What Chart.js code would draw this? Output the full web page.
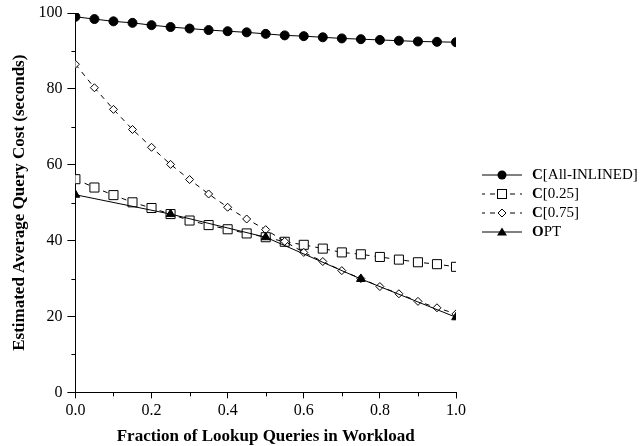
<!DOCTYPE html>
<html>
<head>
<meta charset="utf-8">
<script src="https://cdn.jsdelivr.net/npm/chart.js@4"></script>
<style>
  html, body { margin: 0; padding: 0; background: #fff; }
  #wrap { position: relative; width: 641px; height: 446px; }
  #legend { position: absolute; left: 482px; top: 165px; font-family: "Liberation Serif", serif; font-size: 15px; color: #000; }
  .row { display: flex; align-items: center; height: 19px; white-space: nowrap; }
  .row svg { width: 40px; height: 14px; margin-right: 10px; }
</style>
</head>
<body>
<div id="wrap">
  <canvas id="c" width="641" height="446"></canvas>
  <div id="legend"></div>
</div>
<script>
const fractions = [0, 0.05, 0.1, 0.15, 0.2, 0.25, 0.3, 0.35, 0.4, 0.45, 0.5, 0.55, 0.6, 0.65, 0.7, 0.75, 0.8, 0.85, 0.9, 0.95, 1.0];
const allInlined = [99.0, 98.4, 97.8, 97.4, 96.8, 96.3, 95.9, 95.5, 95.2, 94.9, 94.5, 94.1, 93.9, 93.6, 93.3, 93.1, 92.9, 92.7, 92.5, 92.4, 92.3];
const c025 = [56.2, 54.0, 52.0, 50.1, 48.6, 47.0, 45.3, 44.1, 43.0, 41.9, 40.9, 39.7, 38.9, 37.9, 36.9, 36.4, 35.7, 35.0, 34.3, 33.8, 33.1];
const c075 = [86.5, 80.3, 74.6, 69.3, 64.6, 60.1, 56.1, 52.3, 48.8, 45.7, 42.9, 39.8, 36.9, 34.5, 32.1, 30.0, 27.9, 26.0, 24.0, 22.3, 20.7];
const optFractions = [0, 0.25, 0.5, 0.75, 1.0];
const opt = [52.1, 47.0, 40.9, 29.9, 19.8];
const yTicks = [0, 20, 40, 60, 80, 100];
const xTicks = [0.0, 0.2, 0.4, 0.6, 0.8, 1.0];
const yMinorTicks = [10, 30, 50, 70, 90];
const xMinorTicks = [0.1, 0.3, 0.5, 0.7, 0.9];

const pts = (xs, ys) => xs.map((x, i) => ({ x: x, y: ys[i] }));
const FONT = "'Liberation Serif', 'Times New Roman', serif";

const datasets = [
  { label: 'C[All-INLINED]', data: pts(fractions, allInlined), borderColor: '#000', borderWidth: 1,
    pointStyle: 'circle', pointRadius: 4.5, pointBackgroundColor: '#000', pointBorderColor: '#000', pointBorderWidth: 1, order: 3 },
  { label: 'C[0.25]', data: pts(fractions, c025), borderColor: '#000', borderWidth: 1, borderDash: [5, 5],
    pointStyle: 'rect', pointRadius: 6.4, pointBackgroundColor: '#fff', pointBorderColor: '#000', pointBorderWidth: 1, order: 2 },
  { label: 'C[0.75]', data: pts(fractions, c075), borderColor: '#000', borderWidth: 1, borderDash: [5, 5],
    pointStyle: 'rectRot', pointRadius: 4, pointBackgroundColor: '#fff', pointBorderColor: '#000', pointBorderWidth: 1, order: 1 },
  { label: 'OPT', data: pts(optFractions, opt), borderColor: '#000', borderWidth: 1,
    pointStyle: 'triangle', pointRadius: 5, pointBackgroundColor: '#000', pointBorderColor: '#000', pointBorderWidth: 1, order: 0 }
];

// minor ticks drawn through the chart's own scales
const minorTicks = {
  id: 'minorTicks',
  afterDraw(chart) {
    const ctx = chart.ctx, xs = chart.scales.x, ys = chart.scales.y;
    ctx.save();
    ctx.strokeStyle = '#000';
    ctx.lineWidth = 1;
    ctx.beginPath();
    yMinorTicks.forEach(v => {
      const py = Math.round(ys.getPixelForValue(v)) + 0.5;
      ctx.moveTo(xs.left - 4, py); ctx.lineTo(xs.left, py);
    });
    xMinorTicks.forEach(v => {
      const px = Math.round(xs.getPixelForValue(v)) + 0.5;
      ctx.moveTo(px, ys.bottom); ctx.lineTo(px, ys.bottom + 4);
    });
    ctx.stroke();
    ctx.restore();
  }
};

new Chart(document.getElementById('c'), {
  type: 'line',
  data: { datasets: datasets },
  plugins: [minorTicks],
  options: {
    responsive: false,
    animation: false,
    devicePixelRatio: 1,
    layout: { padding: { left: 9, right: 185, top: 0, bottom: -1 } },
    plugins: { legend: { display: false }, tooltip: { enabled: false } },
    elements: { line: { tension: 0, fill: false } },
    scales: {
      x: {
        type: 'linear', min: 0, max: 1,
        ticks: {
          stepSize: 0.2, color: '#000', font: { family: FONT, size: 16 }, maxRotation: 0, autoSkip: false, padding: 3,
          callback: function (v) {
            const t = Math.round(v * 5);
            return xTicks[t].toFixed(1);
          }
        },
        grid: { drawOnChartArea: false, drawTicks: true, tickLength: 6, color: '#000' },
        border: { display: true, color: '#000', width: 1 },
        title: { display: true, text: 'Fraction of Lookup Queries in Workload', color: '#000',
                 font: { family: FONT, size: 17, weight: 'bold' }, padding: { top: 3, bottom: 0 } }
      },
      y: {
        type: 'linear', min: 0, max: 100,
        ticks: {
          stepSize: 20, color: '#000', font: { family: FONT, size: 16, lineHeight: 1.0 }, padding: 5,
          callback: function (v) {
            return yTicks.indexOf(v) >= 0 ? String(v) : '';
          }
        },
        grid: { drawOnChartArea: false, drawTicks: true, tickLength: 8, color: '#000' },
        border: { display: true, color: '#000', width: 1 },
        title: { display: true, text: 'Estimated Average Query Cost (seconds)', color: '#000',
                 font: { family: FONT, size: 17, weight: 'bold' }, padding: { top: 0, bottom: 4 } }
      }
    }
  }
});

// HTML legend with line + marker samples
const legendItems = [
  { bold: 'C', rest: '[All-INLINED]', dash: '', marker: '<circle cx="20" cy="7" r="4.5" fill="#000"/>' },
  { bold: 'C', rest: '[0.25]', dash: '5,5', marker: '<rect x="15.5" y="2.5" width="9" height="9" fill="#fff" stroke="#000" stroke-width="1"/>' },
  { bold: 'C', rest: '[0.75]', dash: '5,5', marker: '<polygon points="20,3 24,7 20,11 16,7" fill="#fff" stroke="#000" stroke-width="1"/>' },
  { bold: 'O', rest: 'PT', dash: '', marker: '<polygon points="20,2.5 25,10.5 15,10.5" fill="#000"/>' }
];
const lg = document.getElementById('legend');
legendItems.forEach(it => {
  const row = document.createElement('div');
  row.className = 'row';
  row.innerHTML = '<svg viewBox="0 0 40 14"><line x1="0" y1="7" x2="40" y2="7" stroke="#000" stroke-width="1"' +
    (it.dash ? ' stroke-dasharray="' + it.dash + '" stroke-dashoffset="2"' : '') + '/>' + it.marker + '</svg>' +
    '<span><b>' + it.bold + '</b>' + it.rest + '</span>';
  lg.appendChild(row);
});
</script>
</body>
</html>
